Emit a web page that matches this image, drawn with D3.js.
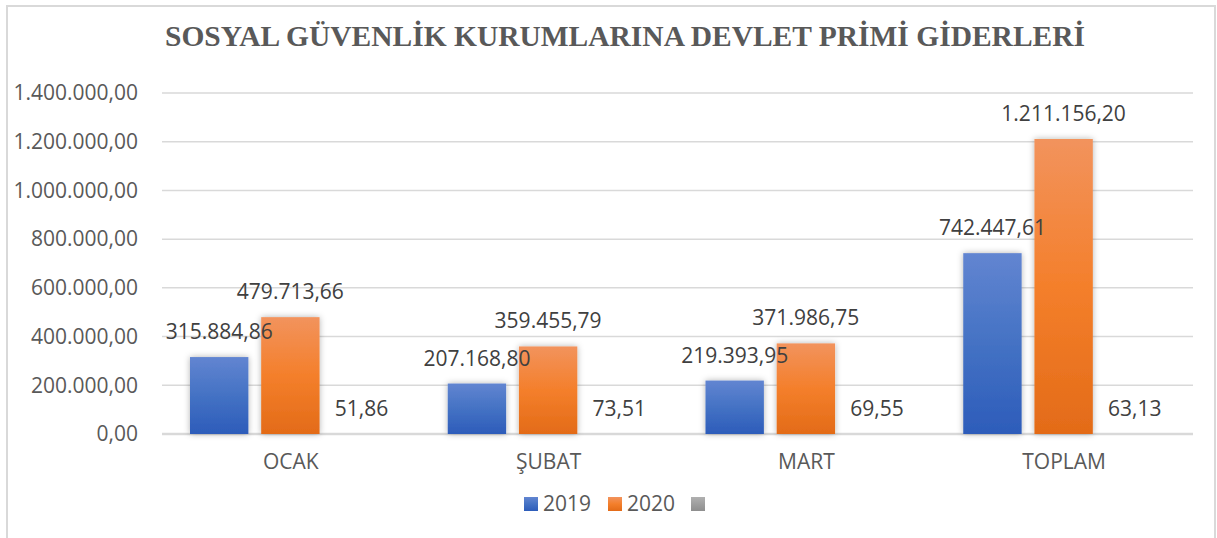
<!DOCTYPE html>
<html>
<head>
<meta charset="utf-8">
<title>Sosyal Güvenlik Kurumlarına Devlet Primi Giderleri</title>
<script src="https://cdn.jsdelivr.net/npm/d3@7"></script>
<style>
	body, html{
		margin: 0;
		padding: 0;
		background: #fff;
		overflow: hidden;
	}
	svg text{
		font-family: 'Open Sans', 'Noto Sans', sans-serif;
		fill: #595959;
	}
	.title{
		font-family: 'Liberation Serif', 'Times New Roman', serif !important;
		font-weight: bold;
	}
	.label{
		fill: #404040;
	}
</style>
</head>
<body>
<svg id="chart" width="1217" height="538"></svg>
<script>
var categories = ['OCAK', 'ŞUBAT', 'MART', 'TOPLAM'];
var seriesNames = ['2019', '2020', ''];
var values2019 = [315884.86, 207168.80, 219393.95, 742447.61];
var values2020 = [479713.66, 359455.79, 371986.75, 1211156.20];
var valuesPct = [51.86, 73.51, 69.55, 63.13];
var yTicks = [0, 200000, 400000, 600000, 800000, 1000000, 1200000, 1400000];

var series = [values2019, values2020, valuesPct];

var svg = d3.select('#chart'),
	plotLeft = 162, plotRight = 1193, plotTop = 93, plotBottom = 434;

var fmt = d3.formatLocale({decimal: ',', thousands: '.', grouping: [3], currency: ['', '']}).format(',.2f');

// frame
svg.append('path')
	.attr('d', 'M7,538 V6 H1215 V538')
	.attr('fill', 'none')
	.attr('stroke', '#d9d9d9')
	.attr('stroke-width', 2);

// gradients and shadow
var defs = svg.append('defs');
function grad(id, stops) {
	var g = defs.append('linearGradient').attr('id', id)
		.attr('x1', 0).attr('y1', 0).attr('x2', 0).attr('y2', 1);
	stops.forEach(function (s) {
		g.append('stop').attr('offset', s[0]).attr('stop-color', s[1]);
	});
}
grad('g0', [[0, '#6285d1'], [0.5, '#4472c4'], [1, '#2d5cba']]);
grad('g1', [[0, '#f2935d'], [0.5, '#f47f2b'], [1, '#e36b18']]);
grad('g2', [[0, '#b0b0b0'], [1, '#8e8e8e']]);

var f = defs.append('filter').attr('id', 'shadow')
	.attr('x', '-30%').attr('y', '-30%').attr('width', '160%').attr('height', '160%');
f.append('feDropShadow').attr('dx', 0).attr('dy', 0).attr('stdDeviation', 3)
	.attr('flood-color', '#000').attr('flood-opacity', 0.3);

// title
svg.append('text')
	.attr('class', 'title')
	.attr('x', 625)
	.attr('y', 46)
	.attr('text-anchor', 'middle')
	.attr('font-size', 30)
	.attr('textLength', 920)
	.attr('lengthAdjust', 'spacingAndGlyphs')
	.text('SOSYAL GÜVENLİK KURUMLARINA DEVLET PRİMİ GİDERLERİ');

// scales
var x = d3.scaleBand().domain(categories).range([plotLeft, plotRight]).paddingInner(0).paddingOuter(0);
var y = d3.scaleLinear().domain([0, 1400000]).range([plotBottom, plotTop]);
var xs = d3.scaleBand().domain([0, 1, 2]).range([28, x.bandwidth() - 29]).paddingInner(0.18);

// grid and y axis
svg.append('g').selectAll('line').data(yTicks).join('line')
	.attr('x1', plotLeft).attr('x2', plotRight)
	.attr('y1', function (d) { return y(d); })
	.attr('y2', function (d) { return y(d); })
	.attr('stroke', '#d9d9d9')
	.attr('stroke-width', function (d) { return d === 0 ? 2.5 : 1.5; });

var yAxis = d3.axisLeft(y).tickValues(yTicks).tickSize(0).tickPadding(24).tickFormat(fmt);
var ga = svg.append('g').attr('transform', 'translate(' + plotLeft + ',0)').call(yAxis);
ga.select('.domain').remove();
ga.selectAll('text').attr('font-size', 21).attr('fill', '#595959').attr('font-family', null);

// x axis labels
var xAxis = d3.axisBottom(x).tickSize(0).tickPadding(20);
var gx = svg.append('g').attr('transform', 'translate(0,' + plotBottom + ')').call(xAxis);
gx.select('.domain').remove();
gx.selectAll('text').attr('font-size', 21).attr('fill', '#595959').attr('font-family', null);

// bars first, then all labels on top
var barLayer = svg.append('g'),
	labelLayer = svg.append('g');

series.forEach(function (vals, si) {
	barLayer.append('g').selectAll('rect').data(vals).join('rect')
		.attr('x', function (d, i) { return x(categories[i]) + xs(si); })
		.attr('width', xs.bandwidth())
		.attr('y', function (d) { return y(d); })
		.attr('height', function (d) { return plotBottom - y(d); })
		.attr('fill', 'url(#g' + si + ')')
		.attr('filter', si < 2 ? 'url(#shadow)' : null);
	labelLayer.append('g').selectAll('text').data(vals).join('text')
		.attr('class', 'label')
		.attr('x', function (d, i) { return x(categories[i]) + xs(si) + xs.bandwidth() / 2; })
		.attr('y', function (d) { return y(d) - 18; })
		.attr('text-anchor', 'middle')
		.attr('font-size', 21)
		.text(function (d) { return fmt(d); });
});

// legend
var legendX = [524, 608, 691];
var lg = svg.append('g');
seriesNames.forEach(function (n, i) {
	lg.append('rect')
		.attr('x', legendX[i]).attr('y', 497)
		.attr('width', 14).attr('height', 14)
		.attr('fill', 'url(#g' + i + ')');
	lg.append('text')
		.attr('x', legendX[i] + 19).attr('y', 511)
		.attr('font-size', 21)
		.text(n);
});
</script>
</body>
</html>
